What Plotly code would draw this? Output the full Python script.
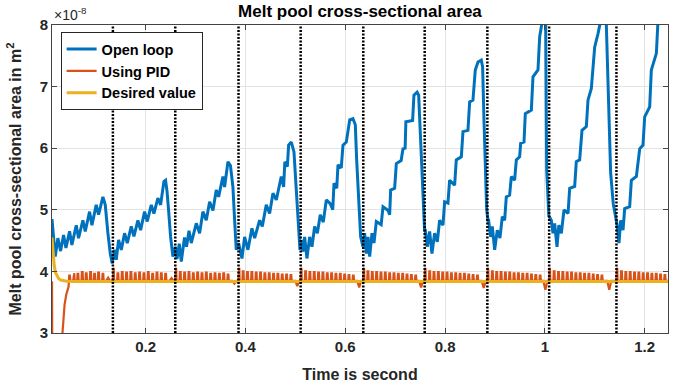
import plotly.graph_objects as go

# ---------------- data (areas in units of 1e-8 m^2) ----------------
open_loop_t = [
    0.0125, 0.0143, 0.0190, 0.0243, 0.0297, 0.0357, 0.0404, 0.0477, 0.0524, 0.0611, 0.0657, 0.0744, 0.0791,
    0.0878, 0.0925, 0.1011, 0.1058, 0.1145, 0.1192, 0.1245, 0.1292, 0.1332,
    0.1379, 0.1412, 0.1459, 0.1513, 0.1579, 0.1633, 0.1713, 0.1766, 0.1846, 0.1900, 0.1980, 0.2033, 0.2114,
    0.2167, 0.2247, 0.2301, 0.2367, 0.2400, 0.2430, 0.2461, 0.2501, 0.2548, 0.2595,
    0.2630, 0.2675, 0.2715, 0.2780, 0.2820, 0.2870, 0.2915, 0.3016, 0.3082, 0.3149, 0.3216, 0.3283, 0.3350,
    0.3416, 0.3463, 0.3550, 0.3583, 0.3650, 0.3700, 0.3750, 0.3784, 0.3817, 0.3864,
    0.3931, 0.3984, 0.4051, 0.4131, 0.4185, 0.4285, 0.4338, 0.4418, 0.4485, 0.4552, 0.4619, 0.4719, 0.4766,
    0.4790, 0.4840, 0.4866, 0.4920, 0.4973, 0.5020, 0.5067, 0.5093,
    0.5120, 0.5153, 0.5187, 0.5233, 0.5287, 0.5334, 0.5387, 0.5441, 0.5500, 0.5560, 0.5621, 0.5700, 0.5750,
    0.5775, 0.5830, 0.5855, 0.5920, 0.5955, 0.6022, 0.6090, 0.6155, 0.6202, 0.6229, 0.6269, 0.6309, 0.6356,
    0.6389, 0.6423, 0.6456, 0.6490, 0.6536, 0.6576, 0.6623, 0.6720, 0.6757, 0.6860, 0.6890, 0.6910, 0.6990,
    0.7024, 0.7120, 0.7157, 0.7200, 0.7215, 0.7350, 0.7377, 0.7440, 0.7471, 0.7491, 0.7524, 0.7557, 0.7590,
    0.7604, 0.7644, 0.7691, 0.7738, 0.7791, 0.7845, 0.7891, 0.7958, 0.7992, 0.8058, 0.8092, 0.8192, 0.8225,
    0.8326, 0.8359, 0.8459, 0.8493, 0.8559, 0.8606, 0.8660, 0.8726, 0.8753, 0.8780, 0.8807, 0.8834, 0.8860,
    0.8873, 0.8913, 0.8947, 0.8994, 0.9047, 0.9100, 0.9147, 0.9194, 0.9227, 0.9294, 0.9328, 0.9394, 0.9428,
    0.9494, 0.9515, 0.9582, 0.9608, 0.9729, 0.9762, 0.9862, 0.9896, 0.9929, 0.9990, 1.0015, 1.0036, 1.0080,
    1.0129, 1.0163, 1.0196, 1.0243, 1.0280, 1.0330, 1.0383, 1.0464, 1.0497, 1.0597, 1.0630, 1.0697, 1.0744,
    1.0831, 1.0864, 1.0931, 1.0998, 1.1065, 1.1131, 1.1200, 1.1228, 1.1318, 1.1370, 1.1432,
    1.1452, 1.1485, 1.1519, 1.1566, 1.1599, 1.1699, 1.1733, 1.1833, 1.1900, 1.1966, 1.2000, 1.2100, 1.2133,
    1.2234, 1.2267, 1.2400, 1.2467,
]
open_loop_y = [
    4.85, 4.67, 4.24, 4.54, 4.33, 4.59, 4.38, 4.65, 4.43, 4.75, 4.54, 4.83, 4.65,
    4.97, 4.75, 5.08, 4.92, 5.21, 5.08, 4.62, 4.29, 4.13,
    4.35, 4.19, 4.51, 4.35, 4.62, 4.46, 4.73, 4.57, 4.83, 4.67, 4.97, 4.81, 5.08,
    4.94, 5.19, 5.08, 5.46, 5.48, 5.30, 4.99, 4.56, 4.24, 4.40,
    4.20, 4.45, 4.16, 4.55, 4.40, 4.66, 4.46, 4.78, 4.62, 4.97, 4.83, 5.13, 4.99,
    5.32, 5.21, 5.54, 5.37, 5.78, 5.72, 5.37, 4.83, 4.35, 4.46,
    4.21, 4.56, 4.35, 4.70, 4.54, 4.83, 4.73, 5.08, 4.94, 5.27, 5.16, 5.54, 5.37,
    5.78, 5.70, 6.05, 6.10, 5.94, 5.27, 4.62, 4.35,
    4.51, 4.32, 4.56, 4.21, 4.56, 4.40, 4.73, 4.62, 4.92, 4.80, 5.16, 5.10, 5.00,
    5.43, 5.35, 5.73, 5.68, 6.05, 6.10, 6.46, 6.48, 6.38, 5.81, 5.16, 4.56, 4.40,
    4.62, 4.29, 4.56, 4.24, 4.62, 4.46, 4.81, 4.76, 5.05, 4.99, 4.92, 5.32, 5.35,
    5.75, 5.80, 5.99, 6.00, 6.43, 6.45, 6.86, 6.91, 6.86, 6.46, 5.70, 5.05, 4.67,
    4.67, 4.40, 4.65, 4.29, 4.62, 4.48, 4.83, 4.75, 5.13, 5.11, 5.48, 5.40, 5.81,
    5.86, 6.27, 6.29, 6.75, 6.78, 7.27, 7.40, 7.43, 7.32, 6.46, 5.65, 5.00, 4.83,
    4.83, 4.56, 4.73, 4.35, 4.67, 4.54, 4.89, 4.83, 5.21, 5.24, 5.54, 5.48, 5.81,
    5.86, 6.08, 6.10, 6.56, 6.62, 7.16, 7.27, 7.81, 7.97, 8.25, 8.20, 5.65, 4.90,
    4.83, 4.62, 4.78, 4.40, 4.75, 4.62, 5.00, 4.94, 5.35, 5.38, 5.78, 5.81, 6.29,
    6.35, 6.78, 6.97, 7.64, 7.86, 8.15, 8.40, 8.10, 5.60, 5.10, 4.83,
    4.73, 4.46, 4.83, 4.67, 5.02, 5.05, 5.48, 5.54, 5.99, 6.05, 6.51, 6.67, 7.27,
    7.54, 8.08, 8.40, 8.50,
]

# PID response: start-up transient, then a baseline with periodic pulses and dips at layer changes
pid_start_t = [0.0125, 0.0138, 0.0310, 0.0335, 0.0377, 0.0410, 0.0457]
pid_start_y = [3.84, 1.00, 1.00, 3.00, 3.46, 3.62, 3.75]
pid_base = 3.845
pid_end_t = 1.2467
pid_pulse_t = [
    [0.0477, 0.0564, 0.0644, 0.0731, 0.0811, 0.0898, 0.0978, 0.1058, 0.1145],
    [0.1355, 0.1445, 0.1532, 0.1619, 0.1706, 0.1793, 0.1880, 0.1967, 0.2054, 0.2141, 0.2228, 0.2315, 0.2402],
    [0.2605, 0.2695, 0.2782, 0.2869, 0.2956, 0.3043, 0.3130, 0.3217, 0.3304, 0.3391, 0.3478, 0.3565, 0.3652],
    [0.3870, 0.3955, 0.4042, 0.4129, 0.4216, 0.4303, 0.4390, 0.4477, 0.4564, 0.4651, 0.4738, 0.4825, 0.4912],
    [0.5115, 0.5205, 0.5292, 0.5379, 0.5466, 0.5553, 0.5640, 0.5727, 0.5814, 0.5901, 0.5988, 0.6075, 0.6162],
    [0.6370, 0.6455, 0.6542, 0.6629, 0.6716, 0.6803, 0.6890, 0.6977, 0.7064, 0.7151, 0.7238, 0.7325, 0.7412],
    [0.7600, 0.7692, 0.7779, 0.7866, 0.7953, 0.8040, 0.8127, 0.8214, 0.8301, 0.8388, 0.8475, 0.8562, 0.8649],
    [0.8856, 0.8948, 0.9035, 0.9122, 0.9209, 0.9296, 0.9383, 0.9470, 0.9557, 0.9644, 0.9731, 0.9818, 0.9905],
    [1.0094, 1.0186, 1.0273, 1.0360, 1.0447, 1.0534, 1.0621, 1.0708, 1.0795, 1.0882, 1.0969, 1.1056, 1.1143],
    [1.1442, 1.1535, 1.1622, 1.1709, 1.1796, 1.1883, 1.1970, 1.2057, 1.2144, 1.2231, 1.2318, 1.2405],
]
pid_pulse_peak = [
    [3.93, 3.97, 3.96, 3.99, 3.97, 3.99, 3.96, 3.98, 3.96],
    [4.06, 3.97, 3.99, 3.98, 3.99, 3.97, 3.98, 3.97, 3.99, 3.96, 3.98, 3.97, 3.96],
    [4.06, 3.99, 3.98, 3.99, 3.97, 3.98, 3.97, 3.98, 3.96, 3.97, 3.96, 3.97, 3.95],
    [4.06, 4.00, 3.99, 3.99, 3.98, 3.98, 3.97, 3.97, 3.96, 3.96, 3.95, 3.95, 3.94],
    [4.06, 4.00, 3.99, 3.99, 3.98, 3.98, 3.97, 3.97, 3.96, 3.96, 3.95, 3.94, 3.93],
    [4.06, 4.00, 3.99, 3.99, 3.98, 3.98, 3.97, 3.97, 3.96, 3.96, 3.95, 3.94, 3.93],
    [4.06, 4.00, 3.99, 3.99, 3.98, 3.98, 3.97, 3.97, 3.96, 3.96, 3.95, 3.94, 3.93],
    [4.06, 4.00, 3.99, 3.99, 3.98, 3.98, 3.97, 3.97, 3.96, 3.96, 3.95, 3.94, 3.93],
    [4.06, 4.00, 3.99, 3.99, 3.98, 3.98, 3.97, 3.97, 3.96, 3.96, 3.95, 3.94, 3.93],
    [4.06, 4.00, 3.99, 3.99, 3.98, 3.98, 3.97, 3.97, 3.96, 3.96, 3.95, 3.94],
]
pid_dip_t = [0.1250, 0.2520, 0.3780, 0.5040, 0.6280, 0.7520, 0.8775, 1.0010, 1.1290]
pid_dip_y = [3.90, 3.89, 3.80, 3.76, 3.74, 3.74, 3.73, 3.70, 3.70]

desired_t = [0.0125, 0.0135, 0.0150, 0.0170, 0.0195, 0.0225, 0.0260, 0.0300, 0.0350, 0.0420, 0.0550, 1.2467]
desired_y = [4.55, 4.40, 4.24, 4.09, 3.98, 3.92, 3.88, 3.86, 3.85, 3.84, 3.835, 3.835]

layer_change_t = [0.1345, 0.2595, 0.3862, 0.5107, 0.6362, 0.7592, 0.8848, 1.0086, 1.1434]

x_ticks = [0.2, 0.4, 0.6, 0.8, 1.0, 1.2]
x_tick_text = ["0.2", "0.4", "0.6", "0.8", "1", "1.2"]
y_ticks = [3, 4, 5, 6, 7, 8]
x_range = [0.0125, 1.2467]
y_range = [3, 8]

# ---------------- build PID polyline from read events ----------------
events = []
for ts, ps in zip(pid_pulse_t, pid_pulse_peak):
    for t, p in zip(ts, ps):
        events.append((t, "pulse", p))
for t, v in zip(pid_dip_t, pid_dip_y):
    events.append((t, "dip", v))
events.sort()
pid_t = list(pid_start_t)
pid_y = list(pid_start_y)
hw_p, top_p, hw_d = 0.0015, 0.0007, 0.0040
for t, kind, v in events:
    if kind == "pulse":
        pid_t += [t - hw_p, t - top_p, t + top_p, t + hw_p]
        pid_y += [pid_base, v, v, pid_base]
    else:
        pid_t += [t - hw_d, t, t + hw_d]
        pid_y += [pid_base, v, pid_base]
pid_t.append(pid_end_t)
pid_y.append(pid_base)

# dotted layer-change markers
vl_x, vl_y = [], []
for t in layer_change_t:
    vl_x += [t, t, None]
    vl_y += [y_range[0], y_range[1], None]

FONT = "Liberation Sans, Arial, sans-serif"
TXT = "#262626"

fig = go.Figure()
fig.add_trace(go.Scatter(x=open_loop_t, y=open_loop_y, mode="lines", name="Open loop",
                         line=dict(color="#0072BD", width=3), legendgroup="a"))
fig.add_trace(go.Scatter(x=pid_t, y=pid_y, mode="lines", name="Using PID",
                         line=dict(color="#D95319", width=2.2), legendgroup="b"))
fig.add_trace(go.Scatter(x=desired_t, y=desired_y, mode="lines", name="Desired value",
                         line=dict(color="#EDB120", width=3), legendgroup="c"))
fig.add_trace(go.Scatter(x=vl_x, y=vl_y, mode="lines", showlegend=False, hoverinfo="skip",
                         line=dict(color="black", width=2.5, dash="2px,1.5px")))

axis_common = dict(showline=True, linecolor="#444444", linewidth=1, mirror="ticks",
                   ticks="inside", ticklen=5, tickcolor="#444444", showgrid=True,
                   gridcolor="#e3e3e3", gridwidth=1, zeroline=False, automargin=False,
                   tickfont=dict(family=FONT, size=15, color=TXT, weight="bold"))

fig.update_layout(
    width=683, height=388,
    margin=dict(l=52, r=15, t=25, b=55),
    paper_bgcolor="white", plot_bgcolor="white",
    title=dict(text="Melt pool cross-sectional area", x=0.527, xanchor="center",
               y=1 - 11 / 388, yanchor="middle",
               font=dict(family=FONT, size=17, color="black", weight="bold")),
    xaxis=dict(range=x_range, tickvals=x_ticks, ticktext=x_tick_text,
               title=dict(text="Time is second", standoff=14,
                          font=dict(family=FONT, size=16, color=TXT, weight="bold")),
               **axis_common),
    yaxis=dict(range=y_range, tickvals=y_ticks,
               title=dict(text="Melt pool cross-sectional area in m<sup>2</sup>", standoff=14,
                          font=dict(family=FONT, size=16, color=TXT, weight="bold")),
               **axis_common),
    legend=dict(x=0.014, y=0.977, xanchor="left", yanchor="top",
                bgcolor="white", bordercolor="#262626", borderwidth=1,
                font=dict(family=FONT, size=14.5, color="black", weight="bold"),
                tracegroupgap=0, itemwidth=30),
    showlegend=True,
)
fig.add_annotation(text="\u00d710<sup>-8</sup>", xref="paper", yref="paper", x=0, y=1,
                   xanchor="left", yanchor="bottom", showarrow=False, yshift=0,
                   font=dict(family=FONT, size=14, color=TXT))

fig.write_html("out.html")
